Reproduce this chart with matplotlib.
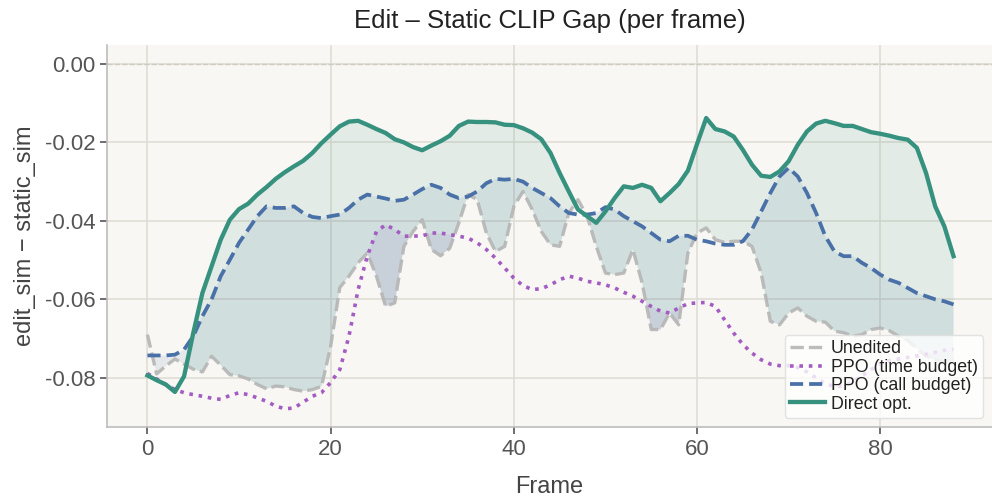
import numpy as np
import matplotlib
matplotlib.use("Agg")
from matplotlib import pyplot as plt

plt.rcParams['font.family'] = ['Liberation Sans', 'DejaVu Sans']
plt.rcParams['axes.unicode_minus'] = False

frames = np.arange(89)

# unedited baseline (edit_sim - static_sim per frame)
unedited = [-0.0690, -0.0790, -0.0770, -0.0752, -0.0765, -0.0778, -0.0785, -0.0745, -0.0768, -0.0792,
            -0.0795, -0.0803, -0.0817, -0.0828, -0.0821, -0.0823, -0.0830, -0.0834, -0.0830, -0.0822,
            -0.0720, -0.0570, -0.0541, -0.0507, -0.0482, -0.0541, -0.0618, -0.0609, -0.0465, -0.0427,
            -0.0397, -0.0473, -0.0489, -0.0470, -0.0405, -0.0333, -0.0346, -0.0431, -0.0478, -0.0465,
            -0.0363, -0.0325, -0.0371, -0.0427, -0.0461, -0.0465, -0.0380, -0.0346, -0.0388, -0.0465,
            -0.0533, -0.0537, -0.0533, -0.0473, -0.0558, -0.0677, -0.0677, -0.0635, -0.0665, -0.0482,
            -0.0431, -0.0418, -0.0448, -0.0455, -0.0452, -0.0452, -0.0465, -0.0533, -0.0656, -0.0665,
            -0.0635, -0.0622, -0.0643, -0.0656, -0.0658, -0.0681, -0.0685, -0.0694, -0.0690, -0.0677,
            -0.0673, -0.0680, -0.0694, -0.0705, -0.0725, -0.0745, -0.0755, -0.0760, -0.0755]

ppo_time = [-0.0789, -0.0803, -0.0817, -0.0830, -0.0838, -0.0843, -0.0847, -0.0852, -0.0855, -0.0845,
            -0.0838, -0.0843, -0.0851, -0.0860, -0.0872, -0.0879, -0.0877, -0.0862, -0.0847, -0.0838,
            -0.0812, -0.0779, -0.0694, -0.0575, -0.0490, -0.0427, -0.0410, -0.0422, -0.0439, -0.0439,
            -0.0438, -0.0431, -0.0431, -0.0435, -0.0439, -0.0444, -0.0456, -0.0473, -0.0495, -0.0520,
            -0.0546, -0.0565, -0.0575, -0.0573, -0.0563, -0.0550, -0.0541, -0.0546, -0.0554, -0.0558,
            -0.0563, -0.0571, -0.0582, -0.0592, -0.0605, -0.0618, -0.0630, -0.0635, -0.0622, -0.0611,
            -0.0609, -0.0608, -0.0618, -0.0652, -0.0686, -0.0715, -0.0737, -0.0754, -0.0765, -0.0769,
            -0.0769, -0.0774, -0.0785, -0.0800, -0.0815, -0.0822, -0.0822, -0.0810, -0.0795, -0.0779,
            -0.0765, -0.0756, -0.0752, -0.0748, -0.0744, -0.0740, -0.0735, -0.0730, -0.0727]

ppo_call = [-0.0743, -0.0743, -0.0743, -0.0741, -0.0728, -0.0694, -0.0643, -0.0600, -0.0541, -0.0499,
            -0.0456, -0.0422, -0.0388, -0.0363, -0.0367, -0.0367, -0.0363, -0.0380, -0.0390, -0.0393,
            -0.0388, -0.0384, -0.0367, -0.0346, -0.0333, -0.0338, -0.0343, -0.0349, -0.0346, -0.0333,
            -0.0319, -0.0308, -0.0316, -0.0333, -0.0342, -0.0338, -0.0325, -0.0304, -0.0293, -0.0295,
            -0.0293, -0.0300, -0.0316, -0.0329, -0.0342, -0.0363, -0.0380, -0.0384, -0.0384, -0.0380,
            -0.0365, -0.0371, -0.0388, -0.0401, -0.0414, -0.0431, -0.0448, -0.0452, -0.0438, -0.0438,
            -0.0448, -0.0452, -0.0458, -0.0461, -0.0461, -0.0452, -0.0422, -0.0376, -0.0329, -0.0287,
            -0.0265, -0.0287, -0.0329, -0.0380, -0.0439, -0.0478, -0.0490, -0.0490, -0.0507, -0.0520,
            -0.0537, -0.0550, -0.0558, -0.0571, -0.0584, -0.0592, -0.0600, -0.0605, -0.0613]

direct = [-0.0794, -0.0806, -0.0817, -0.0836, -0.0796, -0.0686, -0.0584, -0.0516, -0.0448, -0.0397,
          -0.0370, -0.0356, -0.0333, -0.0314, -0.0293, -0.0276, -0.0261, -0.0247, -0.0227, -0.0202,
          -0.0180, -0.0159, -0.0147, -0.0145, -0.0155, -0.0166, -0.0176, -0.0192, -0.0200, -0.0212,
          -0.0220, -0.0208, -0.0197, -0.0183, -0.0158, -0.0147, -0.0148, -0.0148, -0.0149, -0.0155,
          -0.0156, -0.0164, -0.0175, -0.0192, -0.0227, -0.0278, -0.0325, -0.0371, -0.0388, -0.0405,
          -0.0376, -0.0342, -0.0312, -0.0316, -0.0308, -0.0316, -0.0350, -0.0329, -0.0306, -0.0272,
          -0.0204, -0.0138, -0.0166, -0.0172, -0.0185, -0.0219, -0.0257, -0.0285, -0.0288, -0.0274,
          -0.0248, -0.0206, -0.0172, -0.0152, -0.0145, -0.0151, -0.0158, -0.0158, -0.0166, -0.0174,
          -0.0178, -0.0183, -0.0189, -0.0193, -0.0214, -0.0278, -0.0363, -0.0414, -0.0490]

c_gray = '#b5b5b5'
c_time = '#a35cc2'
c_call = '#4a70a8'
c_direct = '#36917f'

fig = plt.figure(figsize=(9.92, 5.01), dpi=100)
ax = fig.add_axes([0.108, 0.148, 0.892, 0.762])
ax.set_facecolor('#f8f7f3')

base = np.array(unedited)
for vals, col in [(ppo_time, c_time), (ppo_call, c_call), (direct, c_direct)]:
    v = np.array(vals)
    ax.fill_between(frames, base, v, where=v > base, interpolate=True,
                    color=col, alpha=0.11, lw=0)

ax.axhline(0, color='#cfcac2', ls='--', lw=1)
ax.plot(frames, unedited, color=c_gray, ls=(0, (4, 1.5)), lw=2.4, alpha=0.9, label='Unedited')
ax.plot(frames, ppo_time, color=c_time, ls=(0, (1, 1.6)), lw=2.6, label='PPO (time budget)')
ax.plot(frames, ppo_call, color=c_call, ls=(0, (3.5, 1.6)), lw=2.7, label='PPO (call budget)')
ax.plot(frames, direct, color=c_direct, lw=3.1, label='Direct opt.')

ax.set_xlim(-4.4, 92.2)
ax.set_ylim(-0.0925, 0.0048)
ax.set_xticks([0, 20, 40, 60, 80])
ax.set_yticks([0.0, -0.02, -0.04, -0.06, -0.08])
ax.set_yticklabels(['0.00', '-0.02', '-0.04', '-0.06', '-0.08'])
ax.grid(True, color='#e1ddd6', lw=1.2)
ax.set_axisbelow(True)

for s in ['top', 'right']:
    ax.spines[s].set_visible(False)
for s in ['left', 'bottom']:
    ax.spines[s].set_color('#bdbdbd')
    ax.spines[s].set_linewidth(1.2)
ax.tick_params(colors='#555555', labelsize=16, length=5, width=1.2)
ax.tick_params(labelcolor='#555555')

ax.set_xlabel('Frame', fontsize=17, color='#444444', labelpad=12)
ax.set_ylabel('edit_sim \u2212 static_sim', fontsize=17, color='#444444', labelpad=6)
ax.set_title('Edit \u2013 Static CLIP Gap (per frame)', fontsize=18.5, color='#222222', pad=12)

leg = ax.legend(loc='lower right', fontsize=12.8, labelspacing=0.08, borderpad=0.3,
                handletextpad=0.3, handlelength=2.0, framealpha=0.8, edgecolor='#dddddd')
for t in leg.get_texts():
    t.set_color('#222222')

fig.savefig('out.png', dpi=100)
